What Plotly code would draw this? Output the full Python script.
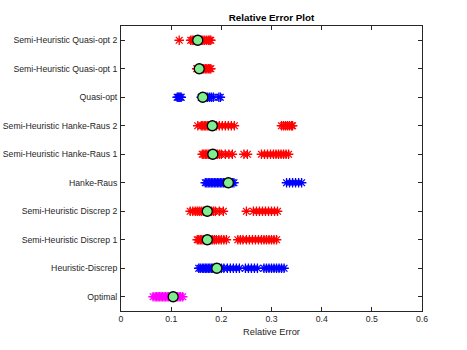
import plotly.graph_objects as go

categories = [
    "Optimal",
    "Heuristic-Discrep",
    "Semi-Heuristic Discrep 1",
    "Semi-Heuristic Discrep 2",
    "Hanke-Raus",
    "Semi-Heuristic Hanke-Raus 1",
    "Semi-Heuristic Hanke-Raus 2",
    "Quasi-opt",
    "Semi-Heuristic Quasi-opt 1",
    "Semi-Heuristic Quasi-opt 2",
]

optimal = [0.064, 0.068, 0.071, 0.074, 0.077, 0.080, 0.083, 0.086, 0.089, 0.092,
           0.095, 0.098, 0.101, 0.104, 0.107, 0.110, 0.113, 0.116, 0.119, 0.123]
heuristic_discrep = [0.155, 0.158, 0.162, 0.165, 0.168, 0.171, 0.174, 0.177, 0.180, 0.183,
                     0.186, 0.189, 0.192, 0.196, 0.200, 0.205, 0.212, 0.218, 0.224, 0.230,
                     0.236, 0.248, 0.254, 0.260, 0.266, 0.272, 0.285, 0.290, 0.295, 0.300,
                     0.305, 0.310, 0.315, 0.320, 0.325]
sh_discrep_1 = [0.152, 0.155, 0.158, 0.161, 0.164, 0.167, 0.170, 0.173, 0.176, 0.179,
                0.182, 0.186, 0.190, 0.195, 0.200, 0.205, 0.210, 0.233, 0.238, 0.243,
                0.250, 0.256, 0.262, 0.268, 0.274, 0.280, 0.285, 0.290, 0.295, 0.300,
                0.305, 0.310]
sh_discrep_2 = [0.138, 0.143, 0.148, 0.152, 0.156, 0.160, 0.164, 0.168, 0.172, 0.176,
                0.180, 0.184, 0.188, 0.196, 0.204, 0.250, 0.264, 0.270, 0.276, 0.282,
                0.288, 0.294, 0.300, 0.306, 0.312]
hanke_raus = [0.168, 0.171, 0.174, 0.177, 0.180, 0.183, 0.186, 0.189, 0.192, 0.195,
              0.198, 0.201, 0.204, 0.207, 0.210, 0.213, 0.216, 0.219, 0.222, 0.225,
              0.330, 0.336, 0.342, 0.348, 0.354, 0.360]
sh_hanke_raus_1 = [0.162, 0.165, 0.168, 0.171, 0.174, 0.177, 0.180, 0.183, 0.186, 0.189,
                   0.192, 0.196, 0.200, 0.208, 0.215, 0.222, 0.245, 0.252, 0.280, 0.286,
                   0.292, 0.298, 0.304, 0.309, 0.314, 0.319, 0.324, 0.329, 0.334]
sh_hanke_raus_2 = [0.153, 0.160, 0.163, 0.166, 0.169, 0.172, 0.175, 0.178, 0.181, 0.184,
                   0.187, 0.190, 0.196, 0.202, 0.208, 0.214, 0.220, 0.226, 0.320, 0.324,
                   0.328, 0.332, 0.336, 0.340, 0.342]
quasi_opt = [0.112, 0.114, 0.116, 0.118, 0.120, 0.160, 0.163, 0.166, 0.169, 0.172,
             0.176, 0.180, 0.184, 0.195, 0.198]
sh_quasi_opt_1 = [0.151, 0.153, 0.155, 0.157, 0.159, 0.161, 0.163, 0.165, 0.168, 0.171,
                  0.174, 0.177, 0.179]
sh_quasi_opt_2 = [0.116, 0.139, 0.142, 0.145, 0.148, 0.151, 0.154, 0.157, 0.160, 0.163,
                  0.166, 0.170, 0.174, 0.177, 0.179]

series = [optimal, heuristic_discrep, sh_discrep_1, sh_discrep_2, hanke_raus,
          sh_hanke_raus_1, sh_hanke_raus_2, quasi_opt, sh_quasi_opt_1, sh_quasi_opt_2]
series_colors = ["#ff00ff", "#0000ff", "#ff0000", "#ff0000", "#0000ff",
                 "#ff0000", "#ff0000", "#0000ff", "#ff0000", "#ff0000"]

centers = [0.104, 0.191, 0.172, 0.172, 0.214, 0.183, 0.182, 0.163, 0.156, 0.153]

x_ticks = [0, 0.1, 0.2, 0.3, 0.4, 0.5, 0.6]

fig = go.Figure()
for i, (vals, col) in enumerate(zip(series, series_colors)):
    fig.add_trace(go.Scatter(
        x=vals, y=[i + 1] * len(vals), mode="markers",
        marker=dict(symbol="asterisk-open", size=8, color=col,
                    line=dict(color=col, width=1.3)),
        showlegend=False, hoverinfo="x"))

fig.add_trace(go.Scatter(
    x=centers, y=list(range(1, len(categories) + 1)), mode="markers",
    marker=dict(symbol="circle", size=10, color="#80ee90",
                line=dict(color="black", width=1.3)),
    showlegend=False))

axis_common = dict(showline=True, linecolor="#262626", linewidth=1, mirror="ticks",
                   ticks="inside", ticklen=4, tickcolor="#262626", showgrid=False,
                   zeroline=False, automargin=False,
                   tickfont=dict(size=8.7, color="#262626"))

fig.update_layout(
    width=467, height=350,
    margin=dict(l=121, r=45, t=26, b=39),
    paper_bgcolor="white", plot_bgcolor="white",
    font=dict(family="Liberation Sans, Arial, sans-serif", color="#262626"),
    title=dict(text="<b>Relative Error Plot</b>", x=0.5, xref="paper",
               y=1 - 18 / 350, yref="container", yanchor="middle",
               font=dict(size=9.8, color="black")),
    xaxis=dict(range=[0, 0.6], tickvals=x_ticks,
               ticktext=[("%g" % v) for v in x_ticks],
               title=dict(text="Relative Error", font=dict(size=9.3), standoff=5),
               **axis_common),
    yaxis=dict(range=[0.5, len(categories) + 0.5],
               tickvals=list(range(1, len(categories) + 1)),
               ticktext=categories, ticklabelstandoff=1, **axis_common),
)

fig.write_html("out.html", config={"displayModeBar": False},
               post_script="document.body.style.margin='0px';")
